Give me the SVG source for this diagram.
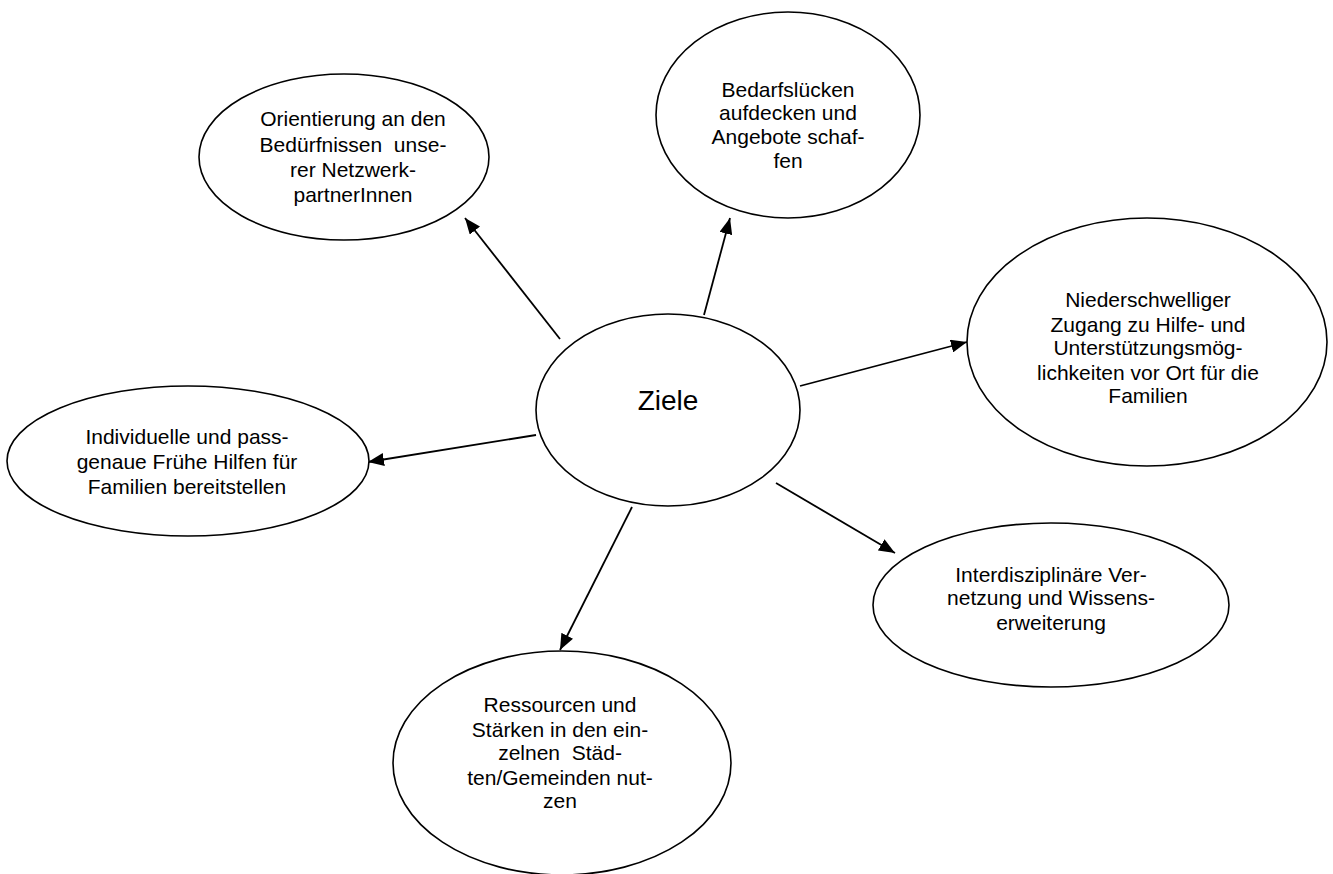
<svg xmlns="http://www.w3.org/2000/svg" width="1333" height="874" viewBox="0 0 1333 874">
<style>
.node ellipse{fill:#fff;stroke:#000;stroke-width:1.6}
.node text{font-family:"Liberation Sans",Arial,sans-serif;font-size:21px;fill:#000;text-anchor:middle}
.node text.big{font-size:28px}
.edge{stroke:#000;stroke-width:1.8;fill:none;marker-end:url(#arr)}
</style>
<defs>
<marker id="arr" markerUnits="userSpaceOnUse" markerWidth="17" markerHeight="13" refX="16" refY="6.5" orient="auto">
<path d="M0,0 L16,6.5 L0,13 z" fill="#000"/>
</marker>
</defs>
<rect width="1333" height="874" fill="#fff"/>
<g id="connectors">
<line class="edge" x1="560" y1="339" x2="465" y2="218"/>
<line class="edge" x1="704" y1="315" x2="730" y2="218"/>
<line class="edge" x1="800" y1="386" x2="967" y2="342"/>
<line class="edge" x1="536" y1="435" x2="368" y2="462"/>
<line class="edge" x1="776" y1="483" x2="895" y2="553"/>
<line class="edge" x1="632" y1="507" x2="560" y2="650"/>
</g>
<g id="ziele" class="node">
<ellipse cx="668" cy="410" rx="132" ry="96"/>
<text class="big" x="668" y="410">Ziele</text>
</g>
<g id="orientierung" class="node">
<ellipse cx="344" cy="157" rx="145" ry="83"/>
<text x="353" y="126">Orientierung an den</text>
<text x="353" y="152" xml:space="preserve">Bedürfnissen  unse-</text>
<text x="353" y="177">rer Netzwerk-</text>
<text x="353" y="202">partnerInnen</text>
</g>
<g id="bedarfsluecken" class="node">
<ellipse cx="788" cy="115" rx="132" ry="103"/>
<text x="788" y="97">Bedarfslücken</text>
<text x="788" y="120">aufdecken und</text>
<text x="788" y="144">Angebote schaf-</text>
<text x="788" y="168">fen</text>
</g>
<g id="niederschwelliger" class="node">
<ellipse cx="1147" cy="342" rx="180" ry="124"/>
<text x="1148" y="307">Niederschwelliger</text>
<text x="1148" y="332">Zugang zu Hilfe- und</text>
<text x="1148" y="355">Unterstützungsmög-</text>
<text x="1148" y="380">lichkeiten vor Ort für die</text>
<text x="1148" y="403">Familien</text>
</g>
<g id="individuelle" class="node">
<ellipse cx="188" cy="461" rx="181" ry="75"/>
<text x="187" y="444">Individuelle und pass-</text>
<text x="187" y="469">genaue Frühe Hilfen für</text>
<text x="187" y="494">Familien bereitstellen</text>
</g>
<g id="interdisziplinaere" class="node">
<ellipse cx="1051" cy="605" rx="178" ry="82"/>
<text x="1051" y="582">Interdisziplinäre Ver-</text>
<text x="1051" y="605">netzung und Wissens-</text>
<text x="1051" y="630">erweiterung</text>
</g>
<g id="ressourcen" class="node">
<ellipse cx="562" cy="763" rx="169" ry="112"/>
<text x="560" y="712">Ressourcen und</text>
<text x="560" y="737">Stärken in den ein-</text>
<text x="560" y="760" xml:space="preserve">zelnen  Städ-</text>
<text x="560" y="785">ten/Gemeinden nut-</text>
<text x="560" y="808">zen</text>
</g>
</svg>
